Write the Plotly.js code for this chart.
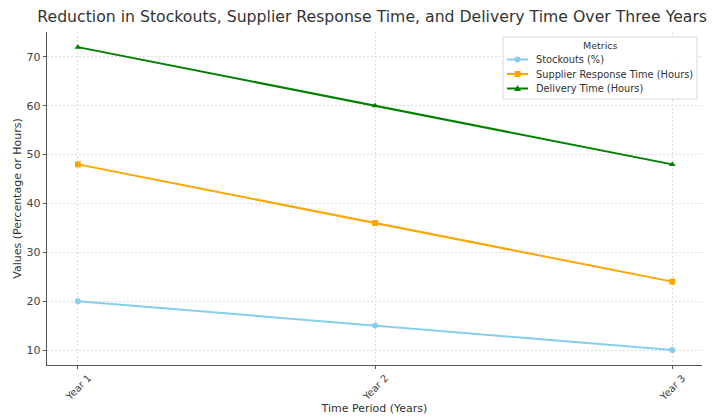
<!DOCTYPE html>
<html>
<head>
<meta charset="utf-8">
<script src="https://cdn.plot.ly/plotly-3.0.1.min.js"></script>
<style>
  html, body { margin: 0; padding: 0; background: #fff; }
  #chart { width: 713px; height: 420px; }
</style>
</head>
<body>
<div id="chart"></div>
<script>
// Periods and the three metrics tracked over them
const periods = ["Year 1", "Year 2", "Year 3"];
const stockouts = [20, 15, 10];
const supplierResponse = [48, 36, 24];
const deliveryTime = [72, 60, 48];

const seriesNames = ["Stockouts (%)", "Supplier Response Time (Hours)", "Delivery Time (Hours)"];
const seriesColors = ["#87CEEB", "#FFA500", "#008000"];
const seriesSymbols = ["circle", "square", "triangle-up"];
const seriesValues = [stockouts, supplierResponse, deliveryTime];

const W = 713, H = 420;
const M = { l: 47, r: 11, t: 32, b: 55 };
const font = "DejaVu Sans, sans-serif";

const periodIdx = periods.map((_, k) => k);

const traces = seriesValues.map((vals, i) => ({
  x: periodIdx,
  y: vals,
  name: seriesNames[i],
  type: "scatter",
  mode: "lines+markers",
  line: { color: seriesColors[i], width: 2 },
  marker: { color: seriesColors[i], symbol: seriesSymbols[i], size: 6 },
  showlegend: false
}));

// pixel -> paper helpers for the hand-built legend box
const plotW = W - M.l - M.r, plotH = H - M.t - M.b;
const px = X => (X - M.l) / plotW;
const py = Y => (H - M.b - Y) / plotH;

const shapes = [];
const annotations = [];

// rotated x tick labels, centred under each tick
periods.forEach((p, k) => {
  annotations.push({
    x: k, xref: "x", y: 0, yref: "paper",
    text: p, showarrow: false, textangle: -45,
    xanchor: "center", yanchor: "top", yshift: -4,
    font: { family: font, size: 10, color: "#444" }
  });
});

// legend box
const LB = { x0: 503, x1: 697, y0: 37, y1: 99 };
shapes.push({
  type: "rect", xref: "paper", yref: "paper", layer: "above",
  x0: px(LB.x0), x1: px(LB.x1), y0: py(LB.y1), y1: py(LB.y0),
  line: { color: "#d8d8d8", width: 1 }, fillcolor: "rgba(255,255,255,0.92)"
});
annotations.push({
  x: px((LB.x0 + LB.x1) / 2), y: py(45), xref: "paper", yref: "paper",
  text: "Metrics", showarrow: false, xanchor: "center", yanchor: "middle",
  font: { family: font, size: 9.5, color: "#333" }
});
const rowY = [59.5, 74, 88.5];
seriesNames.forEach((name, i) => {
  const yy = rowY[i];
  shapes.push({
    type: "line", xref: "paper", yref: "paper", layer: "above",
    x0: px(507), x1: px(528), y0: py(yy), y1: py(yy),
    line: { color: seriesColors[i], width: 2 }
  });
  const cx = 517.5, r = 3;
  if (seriesSymbols[i] === "circle") {
    shapes.push({ type: "circle", xref: "paper", yref: "paper", layer: "above",
      x0: px(cx - r), x1: px(cx + r), y0: py(yy + r), y1: py(yy - r),
      line: { width: 0 }, fillcolor: seriesColors[i] });
  } else if (seriesSymbols[i] === "square") {
    shapes.push({ type: "rect", xref: "paper", yref: "paper", layer: "above",
      x0: px(cx - r), x1: px(cx + r), y0: py(yy + r), y1: py(yy - r),
      line: { width: 0 }, fillcolor: seriesColors[i] });
  } else {
    shapes.push({ type: "path", xref: "paper", yref: "paper", layer: "above",
      path: `M ${px(cx)} ${py(yy - 3.5)} L ${px(cx + 3.5)} ${py(yy + 2.5)} L ${px(cx - 3.5)} ${py(yy + 2.5)} Z`,
      line: { width: 0 }, fillcolor: seriesColors[i] });
  }
  annotations.push({
    x: px(534), y: py(yy), xref: "paper", yref: "paper",
    text: name, showarrow: false, xanchor: "left", yanchor: "middle",
    font: { family: font, size: 9.8, color: "#333" }
  });
});

const layout = {
  width: W,
  height: H,
  margin: M,
  paper_bgcolor: "#fff",
  plot_bgcolor: "#fff",
  font: { family: font, color: "#444", size: 11 },
  title: {
    text: "Reduction in Stockouts, Supplier Response Time, and Delivery Time Over Three Years",
    font: { family: font, size: 15.7, color: "#333" },
    x: 0.522, xref: "container", xanchor: "center", y: 0.96, yanchor: "middle"
  },
  xaxis: {
    range: [-0.104, 2.1],
    tickmode: "array",
    tickvals: periodIdx,
    showticklabels: false,
    ticks: "outside", ticklen: 3, tickcolor: "#555",
    showline: true, linecolor: "#555", linewidth: 1.2,
    showgrid: true, gridcolor: "#dcdcdc", griddash: "2px,2px", gridwidth: 1,
    zeroline: false,
    title: { text: "Time Period (Years)", font: { size: 11, color: "#333" }, standoff: 36 }
  },
  yaxis: {
    range: [6.93, 75.1],
    tickvals: [10, 20, 30, 40, 50, 60, 70],
    ticks: "outside", ticklen: 3, tickcolor: "#555",
    showline: true, linecolor: "#555", linewidth: 1.2,
    showgrid: true, gridcolor: "#dcdcdc", griddash: "2px,2px", gridwidth: 1,
    zeroline: false,
    tickfont: { size: 11, color: "#444" },
    title: { text: "Values (Percentage or Hours)", font: { size: 11, color: "#333" }, standoff: 2 }
  },
  showlegend: false,
  shapes: shapes,
  annotations: annotations
};

Plotly.newPlot("chart", traces, layout, { displayModeBar: false, staticPlot: true });
</script>
</body>
</html>
